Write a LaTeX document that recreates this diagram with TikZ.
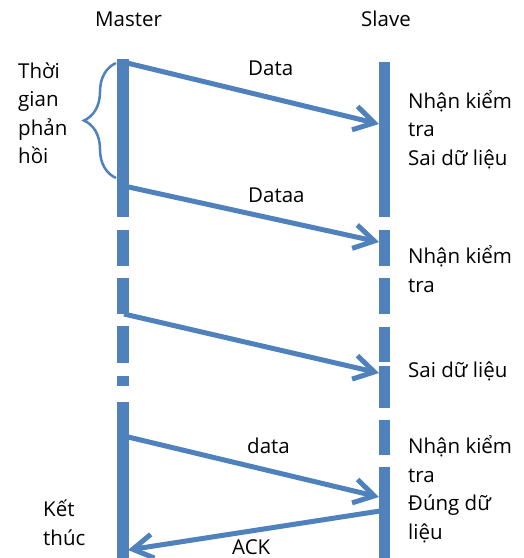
\documentclass[tikz,border=0pt]{standalone}
\usepackage{fontspec}
\setmainfont{Open Sans}
\usetikzlibrary{arrows.meta,decorations.pathreplacing}
\definecolor{seqblue}{RGB}{79,129,189}
\begin{document}
\begin{tikzpicture}[x=1pt,y=-1pt,
  lifeline/.style={seqblue,line width=11.5pt},
  msg/.style={seqblue,line width=5pt,-{Straight Barb[length=20pt,width=24pt]}},
  lbl/.style={font=\fontsize{20.5}{28.5}\selectfont,anchor=base west,align=left,inner sep=0pt}]
\useasboundingbox (0,0) rectangle (524,558);

% message end points on the two lifelines
\coordinate (m1) at (123,62);   \coordinate (s1) at (379,124);
\coordinate (m2) at (124,186);  \coordinate (s2) at (379,242);
\coordinate (m3) at (124,314);  \coordinate (s3) at (379,373);
\coordinate (m4) at (124,436);  \coordinate (s4) at (379,497);
\coordinate (s5) at (380,511);  \coordinate (m5) at (128,550);

% messages
\draw[msg] (m1) -- (s1);
\draw[msg] (m2) -- (s2);
\draw[msg] (m3) -- (s3);
\draw[msg] (m4) -- (s4);
\draw[msg] (s5) -- (m5);

% master lifeline
\foreach \a/\b in {59/217,230/266,278/314,326/363,376/386,402/558}
  \draw[lifeline] (123,\a) -- (123,\b);
% slave lifeline
\foreach \a/\b in {62/217,230/266,278/314,327/362,366/408,420/455,467/558}
  \draw[lifeline] (384.5,\a) -- (384.5,\b);

% response-time brace
\draw[seqblue,line width=2.5pt,decorate,decoration={brace,amplitude=32pt}]
  (116,178) -- (116,63);

% labels (multi-line nodes are anchored on the baseline of their last line)
\node[lbl] (master) at (95,26) {Master};
\node[lbl] (slave) at (361,26) {Slave};
\node[lbl] (resp) at (18,163.5) {Thời\\gian\\phản\\hồi};
\node[lbl] (ldata1) at (248,75) {Data};
\node[lbl] (ldata2) at (248,202) {Dataa};
\node[lbl] (ldata4) at (247,453) {data};
\node[lbl] (lack) at (232,554) {ACK};
\node[lbl] (st1) at (408,165) {Nhận kiểm\\tra\\Sai dữ liệu};
\node[lbl] (st2) at (408,292) {Nhận kiểm\\tra};
\node[lbl] (st3) at (408,377) {Sai dữ liệu};
\node[lbl] (st4) at (408,539) {Nhận kiểm\\tra\\Đúng dữ\\liệu};
\node[lbl] (end) at (43,545) {Kết\\thúc};
\end{tikzpicture}
\end{document}
